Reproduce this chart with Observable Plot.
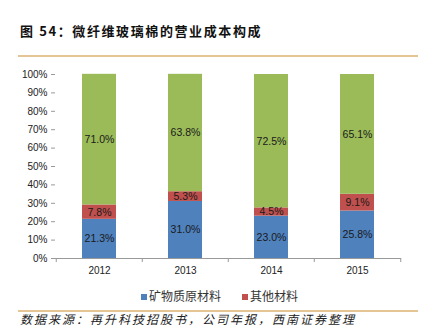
<!DOCTYPE html>
<html><head><meta charset="utf-8">
<script src="https://cdn.jsdelivr.net/npm/d3@7"></script>
<script src="https://cdn.jsdelivr.net/npm/@observablehq/plot@0.6"></script>
<style>
body{margin:0;width:427px;height:326px;overflow:hidden;background:#fff;position:relative;font-family:"Liberation Sans","Noto Sans CJK SC",sans-serif;}
#title{position:absolute;left:20px;top:21px;font-family:"Noto Sans CJK SC",sans-serif;font-weight:bold;font-size:13px;letter-spacing:1.6px;color:#111;white-space:nowrap;}
.hr{position:absolute;left:18px;width:400px;height:2px;background:#E6C594;}
#chart{position:absolute;left:0;top:60px;}
#legend{position:absolute;top:287px;left:0;width:427px;font-family:"Noto Sans CJK SC",sans-serif;font-size:12px;color:#333;}
.lg{position:absolute;white-space:nowrap;}
.sw{display:inline-block;width:6px;height:6px;margin-right:2px;vertical-align:middle;position:relative;top:-1px;}
#src{position:absolute;left:20px;top:313px;font-family:"Noto Sans CJK SC",sans-serif;font-style:italic;font-size:12px;line-height:12px;letter-spacing:2px;color:#222;white-space:nowrap;}
</style></head>
<body>
<div id="title"></div>
<div class="hr" style="top:55px"></div>
<div id="chart"></div>
<div id="legend"></div>
<div class="hr" style="top:310px"></div>
<div id="src"></div>
<script>
const titleText = "图 54：微纤维玻璃棉的营业成本构成";
const sourceText = "数据来源：再升科技招股书，公司年报，西南证券整理";
const years = ["2012", "2013", "2014", "2015"];
const seriesNames = ["矿物质原材料", "其他材料", "其他"];
const mineral = [21.3, 31.0, 23.0, 25.8];
const other = [7.8, 5.3, 4.5, 9.1];
const rest = [71.0, 63.8, 72.5, 65.1];
const colors = ["#4F81BD", "#C0504D", "#9BBB59"];
const legendNames = ["矿物质原材料", "其他材料"];

document.getElementById("title").textContent = titleText;
document.getElementById("src").textContent = sourceText;

const data = [];
[mineral, other, rest].forEach((arr, si) => {
  years.forEach((y, i) => data.push({year: y, series: seriesNames[si], value: arr[i] / 100}));
});

const W = 427, ML = 55, MR = 26;
const step = (W - ML - MR) / years.length;

const chart = Plot.plot({
  width: W, height: 220,
  marginLeft: ML, marginRight: MR, marginTop: 14, marginBottom: 22,
  style: {fontFamily: "Liberation Sans, Arial, sans-serif", fontSize: "10px", color: "#222", background: "transparent"},
  x: {domain: years, paddingInner: 0.6, paddingOuter: 0.3, label: null},
  y: {domain: [0, 1], label: null},
  color: {domain: seriesNames, range: colors},
  marks: [
    Plot.barY(data, Plot.stackY({x: "year", y: "value", fill: "series", order: seriesNames})),
    Plot.text(data, Plot.stackY({x: "year", y: "value", z: "series", order: seriesNames,
      text: d => (d.value * 100).toFixed(1) + "%", fill: "#1a1a1a", fontSize: 10.5})),
    Plot.axisY({ticks: d3.range(0, 1.0001, 0.1), tickFormat: d => Math.round(d * 100) + "%", tickSize: 4, tickPadding: 4, stroke: "#999", fill: "#222", fontSize: 10}),
    Plot.ruleX([0], {frameAnchor: "left", y1: 0, y2: 1, stroke: "#999"}),
    Plot.axisX({tickSize: 0, tickPadding: 8, fill: "#222", fontSize: 10}),
    Plot.ruleY([0], {stroke: "#999"}),
    Plot.ruleX(years, {x: d => d, y1: 0, y2: 0, insetBottom: -4, dx: -step / 2, stroke: "#999"}),
    Plot.ruleX([years[years.length - 1]], {x: d => d, y1: 0, y2: 0, insetBottom: -4, dx: step / 2, stroke: "#999"})
  ]
});
document.getElementById("chart").appendChild(chart);

const lg = document.getElementById("legend");
const lpos = [141, 242];
legendNames.forEach((n, i) => {
  const s = document.createElement("span");
  s.className = "lg";
  s.style.left = lpos[i] + "px";
  s.innerHTML = `<span class="sw" style="background:${colors[i]}"></span>${n}`;
  lg.appendChild(s);
});
</script>
</body></html>
